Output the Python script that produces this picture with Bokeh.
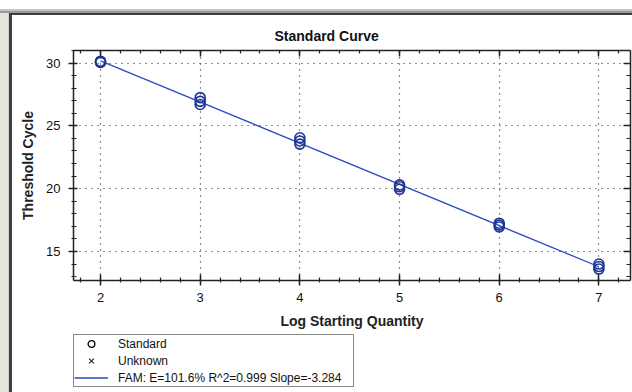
import numpy as np
from bokeh.plotting import figure
from bokeh.layouts import column
from bokeh.models import (LinearAxis, SingleIntervalTicker, Range1d, Legend, LegendItem,
                          CustomJSTickFormatter)
from bokeh.embed import file_html
from bokeh.resources import INLINE

# ---- data ----
log_quantity = [2, 2, 2, 3, 3, 3, 4, 4, 4, 5, 5, 5, 6, 6, 6, 7, 7, 7]
threshold_cycle = [30.15, 30.10, 30.05,
                   27.25, 26.95, 26.70,
                   24.05, 23.80, 23.55,
                   20.30, 20.15, 19.95,
                   17.25, 17.10, 16.95,
                   14.00, 13.80, 13.60]
unknown_x = []
unknown_y = []
legend_labels = ["Standard", "Unknown", "FAM: E=101.6% R^2=0.999 Slope=-3.284"]
title_text = "Standard Curve"
x_label = "Log Starting Quantity"
y_label = "Threshold Cycle"

FONT = "Liberation Sans"
MARK = "#1c3596"
LINE = "#2b4cc0"

# regression line from the standard points
slope, intercept = np.polyfit(log_quantity, threshold_cycle, 1)
fit_x = [min(log_quantity), max(log_quantity)]
fit_y = [slope * v + intercept for v in fit_x]

p = figure(width=632, height=333, output_backend="svg", toolbar_location=None,
           x_range=Range1d(1.729, 7.317), y_range=Range1d(12.69, 31.0),
           min_border_left=73, min_border_right=2, min_border_top=50, min_border_bottom=53)
p.border_fill_alpha = 0
p.background_fill_color = "white"
p.outline_line_color = None
p.styles = {"box-shadow": ("inset 0 9px 0 #ffffff, inset 0 11px 0 #c4c4c4, "
                           "inset 0 13px 0 #9a9a9a, inset 8px 0 0 #e6e4dc, "
                           "inset 9px 0 0 #d0d0d0, inset 12px 15px 0 #404040")}

xt = SingleIntervalTicker(interval=1, num_minor_ticks=5)
yt = SingleIntervalTicker(interval=5, num_minor_ticks=5)

# title
p.title.text = title_text
p.title.text_font = FONT
p.title.text_font_size = "14px"
p.title.text_font_style = "bold"
p.title.text_color = "#111111"
p.title.align = "left"
p.title.offset = 201
p.title.standoff = 14

# bottom / left axes
for ax in (p.xaxis[0], p.yaxis[0]):
    ax.axis_line_color = "#222222"
    ax.axis_line_width = 1.5
    ax.major_tick_line_color = "#222222"
    ax.minor_tick_line_color = "#222222"
    ax.major_tick_line_width = 1.5
    ax.minor_tick_line_width = 1.2
    ax.major_label_text_font = FONT
    ax.major_label_text_font_size = "13px"
    ax.major_label_text_color = "#111111"
    ax.axis_label_text_font = FONT
    ax.axis_label_text_font_size = "14px"
    ax.axis_label_text_font_style = "bold"
    ax.axis_label_text_color = "#222222"

xa = p.xaxis[0]
xa.ticker = xt
xa.axis_label = x_label
xa.major_tick_in = 6
xa.major_tick_out = 5
xa.minor_tick_in = 3
xa.minor_tick_out = 2
xa.major_label_standoff = 7
xa.axis_label_standoff = 8

ya = p.yaxis[0]
ya.ticker = yt
ya.axis_label = y_label
ya.major_tick_in = 4
ya.major_tick_out = 5
ya.minor_tick_in = 3
ya.minor_tick_out = 2
ya.major_label_standoff = 8
ya.axis_label_standoff = 7

blank = CustomJSTickFormatter(code="return ''")
top = LinearAxis(ticker=xt, formatter=blank, major_tick_in=6, major_tick_out=0,
                 minor_tick_in=3, minor_tick_out=0, major_label_standoff=0,
                 axis_line_color="#222222", axis_line_width=1.5,
                 major_tick_line_color="#222222", minor_tick_line_color="#222222",
                 major_tick_line_width=1.5, minor_tick_line_width=1.2)
right = LinearAxis(ticker=yt, formatter=blank, major_tick_in=7, major_tick_out=0,
                   minor_tick_in=4, minor_tick_out=0, major_label_standoff=0,
                   axis_line_color="#222222", axis_line_width=1.5,
                   major_tick_line_color="#222222", minor_tick_line_color="#222222",
                   major_tick_line_width=1.5, minor_tick_line_width=1.2)
p.add_layout(top, "above")
p.add_layout(right, "right")

# grid
p.xgrid.ticker = xt
p.ygrid.ticker = yt
for g in (p.xgrid, p.ygrid):
    g.grid_line_color = "#222222"
    g.grid_line_dash = "1 5"
    g.grid_line_width = 1.2

# data
p.line(fit_x, fit_y, line_color=LINE, line_width=1.3)
p.scatter(log_quantity, threshold_cycle, marker="circle", size=10,
          fill_color=None, line_color=MARK, line_width=1.6)
p.scatter(unknown_x, unknown_y, marker="x", size=12, line_color="black", line_width=1)

# ---- legend strip below the chart ----
lg = figure(width=632, height=59, output_backend="svg", toolbar_location=None,
            x_range=Range1d(0, 1), y_range=Range1d(0, 1),
            x_axis_location=None, y_axis_location=None,
            min_border_left=0, min_border_right=0, min_border_top=0, min_border_bottom=0)
lg.grid.visible = False
lg.outline_line_color = None
lg.border_fill_alpha = 0
lg.background_fill_alpha = 0
lg.styles = {"box-shadow": "inset 8px 0 0 #e6e4dc, inset 9px 0 0 #d0d0d0, inset 12px 0 0 #404040"}

proxy = [np.nan]
std_proxy = lg.scatter(proxy, proxy, marker="circle", size=9, fill_color=None,
                       line_color="black", line_width=1.3)
unk_proxy = lg.scatter(proxy, proxy, marker="x", size=12, line_color="#222222", line_width=1.1)
fit_proxy = lg.line(proxy * 2, proxy * 2, line_color=LINE, line_width=1.3)

legend = Legend(items=[LegendItem(label=legend_labels[0], renderers=[std_proxy]),
                       LegendItem(label=legend_labels[1], renderers=[unk_proxy]),
                       LegendItem(label=legend_labels[2], renderers=[fit_proxy])],
                location=(0, 5), margin=0, padding=0, spacing=0,
                glyph_width=34, glyph_height=17, label_height=17, label_standoff=10,
                label_width=235,
                label_text_font=FONT, label_text_font_size="12px", label_text_color="#111111",
                border_line_color="#111111", border_line_width=1.3,
                background_fill_color="white", background_fill_alpha=1)
lg.add_layout(legend, "center")

layout = column(p, lg, spacing=0)
open("out.html", "w").write(file_html(layout, INLINE))
